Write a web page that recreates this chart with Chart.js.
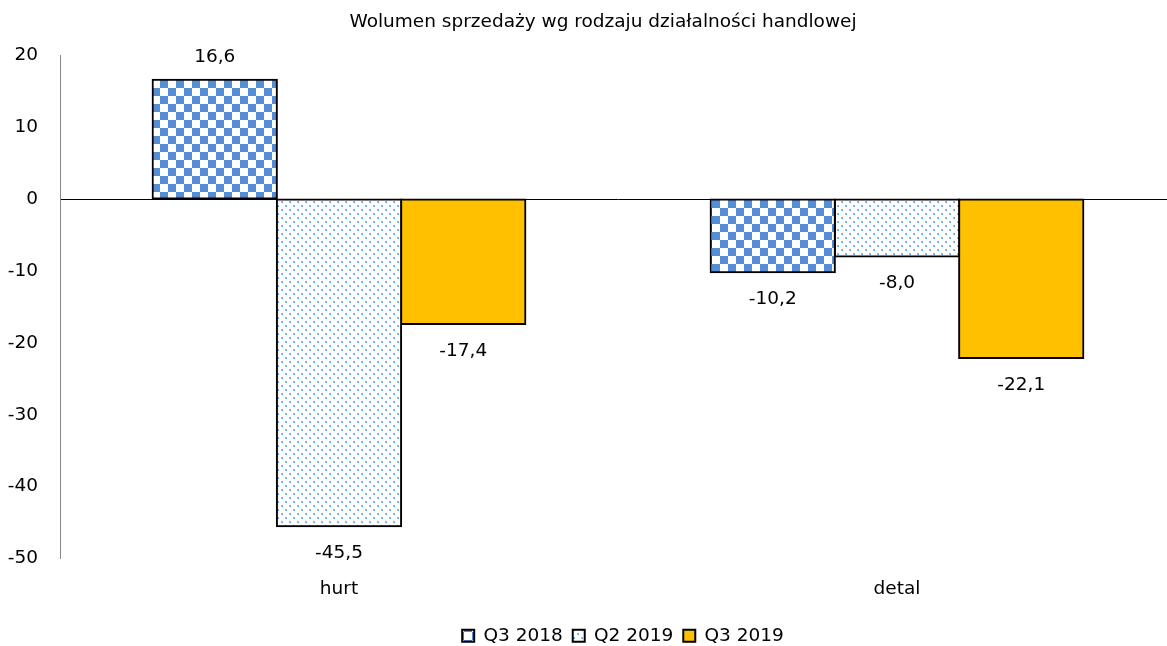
<!DOCTYPE html>
<html>
<head>
<meta charset="utf-8">
<script src="https://cdn.jsdelivr.net/npm/chart.js@4/dist/chart.umd.min.js"></script>
<style>
  html, body { margin: 0; padding: 0; background: #fff; overflow: hidden; }
  #wrap { width: 1167px; height: 646px; overflow: hidden; }
</style>
</head>
<body>
<div id="wrap"><canvas id="c" width="1176" height="646"></canvas></div>
<script>
// Sales volume by type of trade activity (% change)
const categories = ['hurt', 'detal'];
const seriesNames = ['Q3 2018', 'Q2 2019', 'Q3 2019'];
const q3_2018 = [16.6, -10.2];
const q2_2019 = [-45.5, -8.0];
const q3_2019 = [-17.4, -22.1];
const yTicks = [20, 10, 0, -10, -20, -30, -40, -50];

const FONT = "'DejaVu Sans', sans-serif";
const FS = 18.5;
const BLUE = '#558ED5';
const GOLD = '#FFC000';

function checkerPattern() {
  const c = document.createElement('canvas');
  c.width = 16; c.height = 16;
  const g = c.getContext('2d');
  g.fillStyle = '#fff'; g.fillRect(0, 0, 16, 16);
  g.fillStyle = BLUE;
  g.fillRect(0, 0, 8, 8);
  g.fillRect(8, 8, 8, 8);
  return g.createPattern(c, 'repeat');
}

function dotPattern() {
  const c = document.createElement('canvas');
  c.width = 8; c.height = 8;
  const g = c.getContext('2d');
  g.fillStyle = '#fff'; g.fillRect(0, 0, 8, 8);
  g.fillStyle = 'rgba(85,142,213,0.6)';
  g.fillRect(1, 1, 2, 2);
  g.fillRect(5, 5, 2, 2);
  g.fillStyle = BLUE;
  g.fillRect(2, 2, 1, 1);
  g.fillRect(6, 6, 1, 1);
  return g.createPattern(c, 'repeat');
}

const fmt = v => v.toFixed(1).replace('.', ',');

// value labels above positive bars, below negative bars
const valueLabels = {
  id: 'valueLabels',
  afterDatasetsDraw(chart) {
    const ctx = chart.ctx;
    ctx.save();
    ctx.font = FS + 'px ' + FONT;
    ctx.fillStyle = '#000';
    ctx.textAlign = 'center';
    ctx.textBaseline = 'middle';
    chart.data.datasets.forEach((ds, i) => {
      chart.getDatasetMeta(i).data.forEach((el, j) => {
        const v = ds.data[j];
        const y = v >= 0 ? el.y - 22 : el.y + 27;
        ctx.fillText(fmt(v), el.x, y);
      });
    });
    ctx.restore();
  }
};

// nudge title and legend into place
const boxShift = {
  id: 'boxShift',
  afterLayout(chart) {
    const t = chart.titleBlock;
    if (t) { t.left += 15; t.right += 15; }
    const l = chart.legend;
    if (l) { l.left += 35; l.right += 35; l.top += 9; l.bottom += 9; }
  }
};

const checker = checkerPattern();
const dots = dotPattern();

const barStyle = { borderColor: '#000', borderWidth: 2, borderSkipped: false, inflateAmount: 1 };

new Chart(document.getElementById('c'), {
  type: 'bar',
  data: {
    labels: categories,
    datasets: [
      Object.assign({ label: seriesNames[0], data: q3_2018, backgroundColor: checker }, barStyle),
      Object.assign({ label: seriesNames[1], data: q2_2019, backgroundColor: dots }, barStyle),
      Object.assign({ label: seriesNames[2], data: q3_2019, backgroundColor: GOLD }, barStyle)
    ]
  },
  options: {
    responsive: false,
    animation: false,
    devicePixelRatio: 1,
    layout: { padding: 0 },
    datasets: { bar: { categoryPercentage: 0.668, barPercentage: 1.0 } },
    plugins: {
      tooltip: { enabled: false },
      title: {
        display: true,
        text: 'Wolumen sprzedaży wg rodzaju działalności handlowej',
        color: '#000',
        font: { family: FONT, size: FS, weight: 'normal' },
        padding: { top: 11, bottom: 22 }
      },
      legend: {
        position: 'bottom',
        labels: {
          color: '#000',
          font: { family: FONT, size: FS },
          boxWidth: 12,
          boxHeight: 12,
          padding: 10
        }
      }
    },
    scales: {
      x: {
        grid: { display: false },
        border: { display: false },
        ticks: { color: '#000', font: { family: FONT, size: FS }, padding: 12 },
        afterFit(s) { s.height = 49; }
      },
      y: {
        min: -50, max: 20,
        afterBuildTicks(s) { s.ticks = yTicks.map(v => ({ value: v })); },
        grid: {
          drawTicks: false,
          color: c => (c.tick && c.tick.value === 0 ? '#000' : 'rgba(0,0,0,0)'),
          lineWidth: 1
        },
        border: { display: true, color: '#888', width: 1 },
        ticks: { color: '#000', font: { family: FONT, size: FS }, padding: 22 },
        afterFit(s) { s.width = 60; }
      }
    }
  },
  plugins: [valueLabels, boxShift]
});
</script>
</body>
</html>
